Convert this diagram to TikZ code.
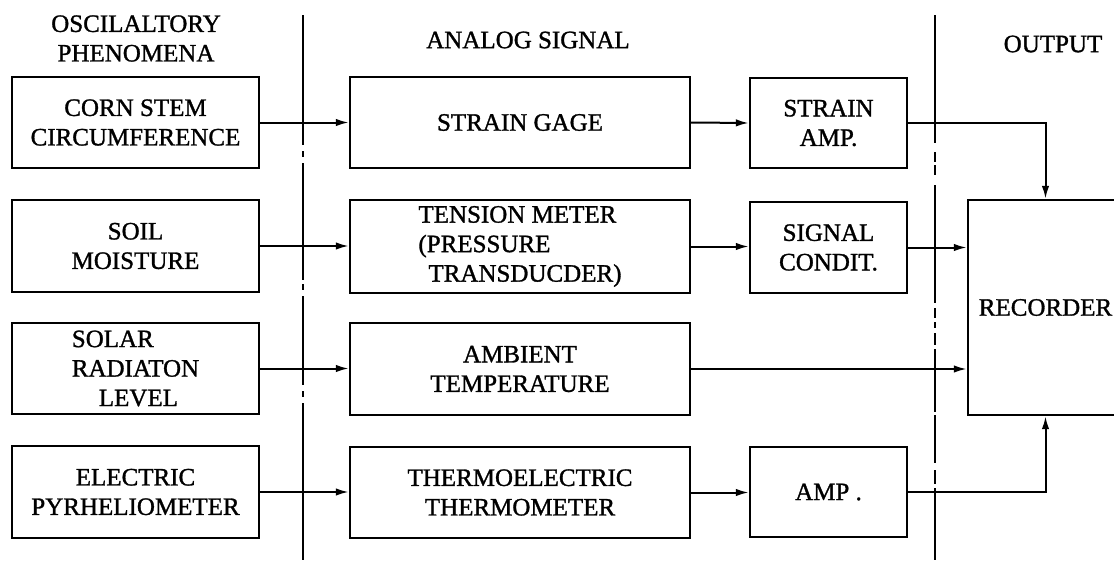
\documentclass[tikz,border=0pt]{standalone}
\usepackage{fontspec}
\setmainfont[FakeBold=1.2]{Liberation Serif}
\usetikzlibrary{arrows.meta}
\begin{document}
\begin{tikzpicture}[x=1pt,y=-1pt,
  every node/.style={font=\fontsize{25}{29.5}\selectfont},
  blk/.style={draw, line width=2.4pt, inner sep=0pt, align=center},
  conn/.style={line width=2pt, -{Latex[length=13pt,width=7.5pt]}},
  divider/.style={line width=1.7pt},
  hdr/.style={align=center, inner sep=0pt}]
\useasboundingbox (0,0) rectangle (1114,562);

% headers
\node[hdr] (h1) at (136,38.5) {OSCILALTORY\\PHENOMENA};
\node[hdr] (h2) at (528,40) {ANALOG SIGNAL};
\node[hdr] (h3) at (1053,44) {OUTPUT};

% column 1
\node[blk, minimum width=247, minimum height=91] (corn) at (135.5,122.5) {CORN STEM\\CIRCUMFERENCE};
\node[blk, minimum width=247, minimum height=92] (soil) at (135.5,246) {SOIL\\MOISTURE};
\node[blk, minimum width=247, minimum height=91, align=left] (solar) at (135.5,368.5) {SOLAR\\RADIATON\\\hspace*{27pt}LEVEL};
\node[blk, minimum width=247, minimum height=92] (elec) at (135.5,492) {ELECTRIC\\PYRHELIOMETER};

% column 2
\node[blk, minimum width=340, minimum height=91] (gage) at (520,122.5) {STRAIN GAGE};
\node[blk, minimum width=340, minimum height=93, align=left] (tens) at (520,246.5) {TENSION METER\\(PRESSURE\\\hspace*{10pt}TRANSDUCDER)};
\node[blk, minimum width=340, minimum height=92] (amb) at (520,369) {AMBIENT\\TEMPERATURE};
\node[blk, minimum width=340, minimum height=91] (thermo) at (520,492.5) {THERMOELECTRIC\\THERMOMETER};

% column 3
\node[blk, minimum width=157, minimum height=90] (samp) at (828.5,123) {STRAIN\\AMP.};
\node[blk, minimum width=157, minimum height=91] (sig) at (828.5,247.5) {SIGNAL\\CONDIT.};
\node[blk, minimum width=157, minimum height=90] (amp) at (828.5,492) {AMP .};

% recorder (its right side runs past the page edge)
\node[blk, minimum width=155, minimum height=215] (rec) at (1045.5,307.5) {RECORDER};

% dividers
\foreach \a/\b in {15/145,151/157,163/280,284/290,296/385,391/397,403/560}
  \draw[divider] (303,\a) -- (303,\b);
\foreach \a/\b in {15/143,152/162,165/175,185/303,308/318,322/328,333/345,349/412,415/463,470/484,488/560}
  \draw[divider] (935,\a) -- (935,\b);

% connectors
\draw[conn] (corn.east) -- (gage.west);
\draw[conn] (gage.east) -- (samp.west);
\draw[conn] (samp.east) -| (rec.north);
\draw[conn] (soil.east) -- (soil.east -| tens.west);
\draw[conn] (tens.east) -- (tens.east -| sig.west);
\draw[conn] (sig.east) -- (sig.east -| rec.west);
\draw[conn] (solar.east) -- (solar.east -| amb.west);
\draw[conn] (amb.east) -- (amb.east -| rec.west);
\draw[conn] (elec.east) -- (elec.east -| thermo.west);
\draw[conn] (thermo.east) -- (thermo.east -| amp.west);
\draw[conn] (amp.east) -| (rec.south);
\end{tikzpicture}
\end{document}
